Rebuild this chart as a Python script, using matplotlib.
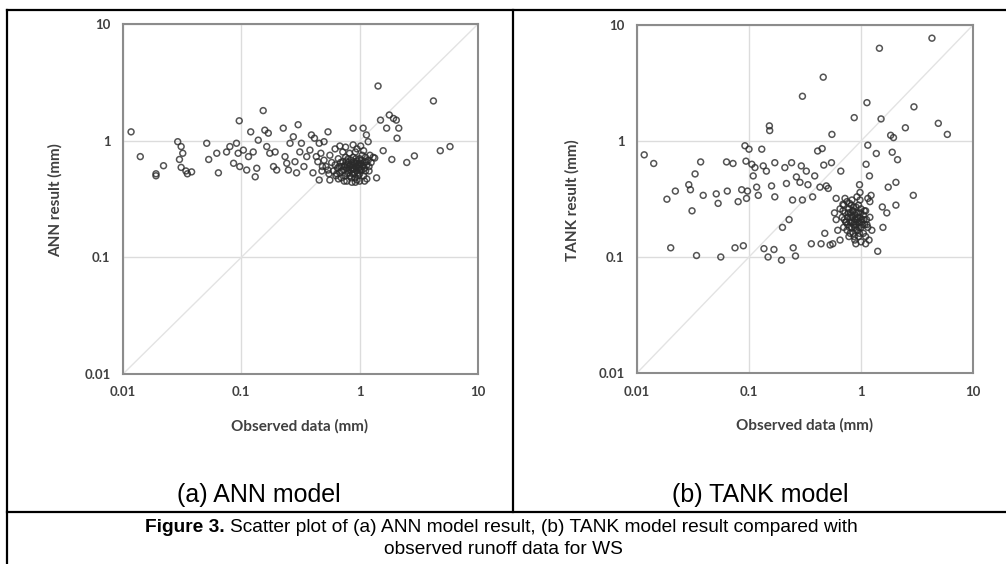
import matplotlib
matplotlib.use('Agg')
import matplotlib.pyplot as plt
from matplotlib.lines import Line2D

# ANN model: observed vs. result (mm)
ann_obs = [0.0117, 0.014, 0.019, 0.019, 0.022, 0.029, 0.031, 0.030, 0.031, 0.034,
           0.035, 0.038, 0.032, 0.051, 0.053, 0.062, 0.064, 0.075, 0.080, 0.086,
           0.091, 0.094, 0.096, 0.097, 0.104, 0.111, 0.115, 0.120, 0.126, 0.131,
           0.135, 0.139, 0.153, 0.158, 0.164, 0.169, 0.174, 0.187, 0.193, 0.199,
           0.226, 0.234, 0.242, 0.250, 0.258, 0.275, 0.284, 0.293, 0.302, 0.312,
           0.322, 0.338, 0.357, 0.380, 0.391, 0.403, 0.415, 0.430, 0.443, 0.455,
           0.455, 0.470, 0.484, 0.50, 0.54, 0.54, 0.56,
           0.60, 0.62, 0.63, 0.65, 0.66, 0.68, 0.70, 0.70, 0.72, 0.73,
           0.75, 0.75, 0.76, 0.78, 0.78, 0.80, 0.80, 0.82, 0.82, 0.84,
           0.85, 0.85, 0.87, 0.88, 0.88, 0.90, 0.90, 0.92, 0.92, 0.94,
           0.95, 0.95, 0.97, 0.98, 1.00, 1.00, 1.02, 1.04, 1.05, 1.06,
           1.08, 1.10, 1.10, 1.12, 1.15, 1.15, 1.18, 1.20, 1.25, 1.30,
           0.58, 0.56, 0.62, 0.68, 0.72, 0.76, 0.88, 0.95, 1.02, 1.08,
           0.86, 0.92, 1.00, 1.10, 0.74, 0.66, 0.52, 0.55, 0.50, 0.48,
           0.70, 0.74, 0.78, 0.80, 0.83, 0.86, 0.89, 0.91, 0.93, 0.96,
           0.99, 1.01, 1.03, 1.07, 1.12, 0.69, 0.77, 0.84, 0.90, 0.97,
           0.64, 0.67, 1.14, 1.20, 0.81, 0.87, 0.94, 1.00, 0.93, 0.79,
           0.88, 1.07, 1.14, 1.18, 1.22, 1.34, 1.39, 1.43, 1.50, 1.58,
           1.69, 1.78, 1.87, 1.93, 2.04, 2.07, 2.14, 2.5, 2.9, 4.2,
           4.8, 5.8]
ann_res = [1.19, 0.73, 0.50, 0.52, 0.61, 0.98, 0.89, 0.69, 0.59, 0.55,
           0.52, 0.54, 0.78, 0.95, 0.69, 0.78, 0.53, 0.80, 0.89, 0.64,
           0.95, 0.78, 1.48, 0.60, 0.83, 0.56, 0.73, 1.19, 0.80, 0.49,
           0.58, 1.01, 1.81, 1.23, 0.89, 1.16, 0.78, 0.60, 0.80, 0.56,
           1.28, 0.73, 0.64, 0.56, 0.95, 1.08, 0.66, 0.53, 1.37, 0.80,
           0.95, 0.60, 0.73, 0.83, 1.12, 0.53, 1.05, 0.73, 0.66, 0.95,
           0.46, 0.78, 0.60, 0.98, 0.56, 1.19, 0.46,
           0.55, 0.62, 0.50, 0.58, 0.70, 0.53, 0.60, 0.48, 0.66, 0.56,
           0.62, 0.50, 0.72, 0.58, 0.45, 0.65, 0.53, 0.60, 0.78, 0.56,
           0.68, 0.48, 0.62, 0.57, 0.72, 0.52, 0.64, 0.60, 0.80, 0.55,
           0.67, 0.46, 0.62, 0.58, 0.70, 0.52, 0.64, 0.56, 0.75, 0.60,
           0.50, 0.66, 0.58, 0.72, 0.62, 0.47, 0.68, 0.55, 0.65, 0.72,
           0.65, 0.75, 0.85, 0.90, 0.80, 0.88, 0.92, 0.85, 0.90, 0.82,
           0.44, 0.44, 0.45, 0.45, 0.45, 0.47, 0.60, 0.52, 0.68, 0.55,
           0.55, 0.60, 0.52, 0.70, 0.50, 0.58, 0.66, 0.48, 0.70, 0.53,
           0.63, 0.56, 0.68, 0.62, 0.55, 0.65, 0.67, 0.62, 0.57, 0.50,
           0.52, 0.60, 0.66, 0.60, 0.56, 0.52, 0.60, 0.60, 0.64, 0.62,
           1.28, 1.28, 1.12, 0.98, 0.75, 0.71, 0.48, 2.94, 1.50, 0.82,
           1.28, 1.66, 0.69, 1.55, 1.50, 1.05, 1.28, 0.65, 0.74, 2.19,
           0.82, 0.89]

# TANK model: observed vs. result (mm)
tank_obs = [0.0116, 0.0141, 0.0185, 0.020, 0.022, 0.029, 0.030, 0.031, 0.033, 0.034,
            0.037, 0.039, 0.051, 0.053, 0.056, 0.063, 0.064, 0.072, 0.075, 0.080,
            0.086, 0.089, 0.092, 0.094, 0.095, 0.097, 0.10, 0.106, 0.109, 0.113,
            0.117, 0.121, 0.130, 0.134, 0.136, 0.143, 0.148, 0.152, 0.153, 0.159,
            0.167, 0.170, 0.170, 0.195, 0.199, 0.209, 0.216, 0.228, 0.24, 0.245,
            0.248, 0.26, 0.265, 0.285, 0.293, 0.30, 0.30, 0.325, 0.336, 0.36,
            0.37, 0.386, 0.41, 0.43, 0.44, 0.45, 0.46, 0.465, 0.475, 0.49,
            0.51, 0.53, 0.545, 0.55, 0.56, 0.60, 0.66, 0.69,
            0.65, 0.68, 0.70, 0.70, 0.72, 0.73, 0.75, 0.75, 0.76, 0.78,
            0.78, 0.80, 0.80, 0.82, 0.82, 0.84, 0.85, 0.85, 0.87, 0.88,
            0.88, 0.90, 0.90, 0.92, 0.93, 0.95, 0.95, 0.97, 0.98, 1.00,
            1.00, 1.02, 1.05, 1.05, 1.08, 1.10, 1.10, 1.12, 1.15, 1.18,
            1.20, 1.25, 1.20, 1.15, 0.60, 0.62, 0.58, 0.65, 0.72, 0.83,
            0.92, 0.98, 0.90, 1.00, 1.10,
            0.74, 0.77, 0.79, 0.81, 0.83, 0.86, 0.86, 0.89, 0.91, 0.91,
            0.94, 0.96, 0.99, 1.03, 1.06, 0.71, 0.69, 0.80, 0.84, 0.88,
            0.93, 0.97, 1.01, 1.07, 0.76, 0.82, 0.87, 0.95, 1.13, 0.79,
            0.87, 0.97, 0.98, 1.11, 1.13, 1.15, 1.19, 1.23, 1.37, 1.41,
            1.46, 1.51, 1.55, 1.57, 1.70, 1.75, 1.84, 1.90, 1.95, 2.05,
            2.05, 2.12, 2.49, 2.93, 2.97, 4.3, 4.9, 5.9]
tank_res = [0.76, 0.64, 0.315, 0.12, 0.37, 0.42, 0.38, 0.25, 0.52, 0.103,
            0.66, 0.34, 0.35, 0.29, 0.10, 0.66, 0.37, 0.64, 0.12, 0.30,
            0.38, 0.125, 0.91, 0.67, 0.32, 0.37, 0.85, 0.63, 0.50, 0.59,
            0.40, 0.34, 0.85, 0.61, 0.118, 0.55, 0.10, 1.35, 1.23, 0.41,
            0.116, 0.65, 0.33, 0.094, 0.18, 0.59, 0.43, 0.21, 0.65, 0.31,
            0.12, 0.102, 0.49, 0.44, 0.61, 2.43, 0.31, 0.55, 0.42, 0.13,
            0.33, 0.50, 0.82, 0.40, 0.13, 0.86, 3.55, 0.62, 0.16, 0.41,
            0.39, 0.127, 0.65, 1.14, 0.13, 0.32, 0.55, 0.285,
            0.26, 0.22, 0.18, 0.28, 0.24, 0.20, 0.17, 0.30, 0.22, 0.26,
            0.15, 0.20, 0.24, 0.18, 0.28, 0.22, 0.16, 0.25, 0.20, 0.23,
            0.14, 0.19, 0.27, 0.21, 0.17, 0.24, 0.15, 0.20, 0.22, 0.18,
            0.26, 0.21, 0.16, 0.23, 0.19, 0.25, 0.15, 0.21, 0.18, 0.14,
            0.22, 0.17, 0.30, 0.32, 0.21, 0.17, 0.24, 0.14, 0.32, 0.31,
            0.33, 0.31, 0.13, 0.135, 0.13,
            0.20, 0.24, 0.18, 0.22, 0.20, 0.19, 0.27, 0.21, 0.17, 0.24,
            0.20, 0.18, 0.24, 0.19, 0.21, 0.21, 0.25, 0.16, 0.25, 0.18,
            0.22, 0.16, 0.20, 0.25, 0.19, 0.23, 0.15, 0.28, 0.19, 0.29,
            1.59, 0.42, 0.36, 0.63, 2.14, 0.92, 0.50, 0.34, 0.78, 0.112,
            6.3, 1.55, 0.27, 0.18, 0.24, 0.40, 1.12, 0.80, 1.07, 0.44,
            0.28, 0.69, 1.30, 0.34, 1.97, 7.7, 1.42, 1.14]

tick_vals = [0.01, 0.1, 1, 10]
tick_labels = ['0.01', '0.1', '1', '10']

W, H = 1006, 564
fig = plt.figure(figsize=(W / 100, H / 100), dpi=100)
fig.patch.set_facecolor('white')

tick_font = dict(family='Lato', weight='bold', size=9.5, color='#404040')
label_font = dict(family='Lato', weight='bold', size=11, color='#404040')


def fx(px):
    return px / W


def fy(py):
    return 1 - py / H


def paneel(rect, obs, res, ylabel, xlab_pos, ylab_pos):
    ax = fig.add_axes(rect)
    ax.set_xscale('log')
    ax.set_yscale('log')
    ax.set_xlim(0.01, 10)
    ax.set_ylim(0.01, 10)
    ax.grid(True, which='major', color='#dcdcdc', linewidth=1)
    ax.set_axisbelow(True)
    ax.plot([0.01, 10], [0.01, 10], color='#e3e3e3', linewidth=1, zorder=1)
    ax.scatter(obs, res, s=18, facecolors='none', edgecolors='#2a2a2a',
               linewidths=1.1, alpha=0.8, zorder=3)
    for s in ax.spines.values():
        s.set_color('#8c8c8c')
        s.set_linewidth(1.5)
    ax.set_xticks(tick_vals)
    ax.set_yticks(tick_vals)
    ax.minorticks_off()
    ax.set_xticklabels(tick_labels, **tick_font)
    ax.set_yticklabels(tick_labels, **tick_font)
    ax.tick_params(length=0, pad=9)
    fig.text(fx(xlab_pos[0]), fy(xlab_pos[1]), 'Observed data (mm)',
             ha='center', va='center', **label_font)
    fig.text(fx(ylab_pos[0]), fy(ylab_pos[1]), ylabel, rotation=90,
             ha='center', va='center', **label_font)
    return ax


paneel([fx(123), fy(374), fx(355), 350 / H], ann_obs, ann_res,
       'ANN result (mm)', (300, 426), (55, 200))
paneel([fx(637), fy(373), fx(336), 348 / H], tank_obs, tank_res,
       'TANK result (mm)', (805, 425), (572, 200))

# tabelranden
lw = 1.6
fig.add_artist(Line2D([fx(7), fx(7)], [fy(10), 0], color='black', lw=lw))
fig.add_artist(Line2D([fx(7), 1], [fy(10), fy(10)], color='black', lw=lw))
fig.add_artist(Line2D([fx(513), fx(513)], [fy(10), fy(512)], color='black', lw=lw))
fig.add_artist(Line2D([fx(7), 1], [fy(512), fy(512)], color='black', lw=lw))

cap_font = dict(family='Liberation Sans', size=18, color='black')
fig.text(fx(259), fy(495), '(a) ANN model', ha='center', va='center', **cap_font)
fig.text(fx(760), fy(495), '(b) TANK model', ha='center', va='center', **cap_font)

fig.text(fx(145), fy(527), 'Figure 3.', ha='left', va='center',
         family='Liberation Sans', weight='bold', size=13.8)
fig.text(fx(230), fy(527),
         'Scatter plot of (a) ANN model result, (b) TANK model result compared with',
         ha='left', va='center', family='Liberation Sans', size=13.8)
fig.text(fx(503), fy(550), 'observed runoff data for WS', ha='center', va='center',
         family='Liberation Sans', size=13.8)

fig.savefig('out.png', dpi=100)
